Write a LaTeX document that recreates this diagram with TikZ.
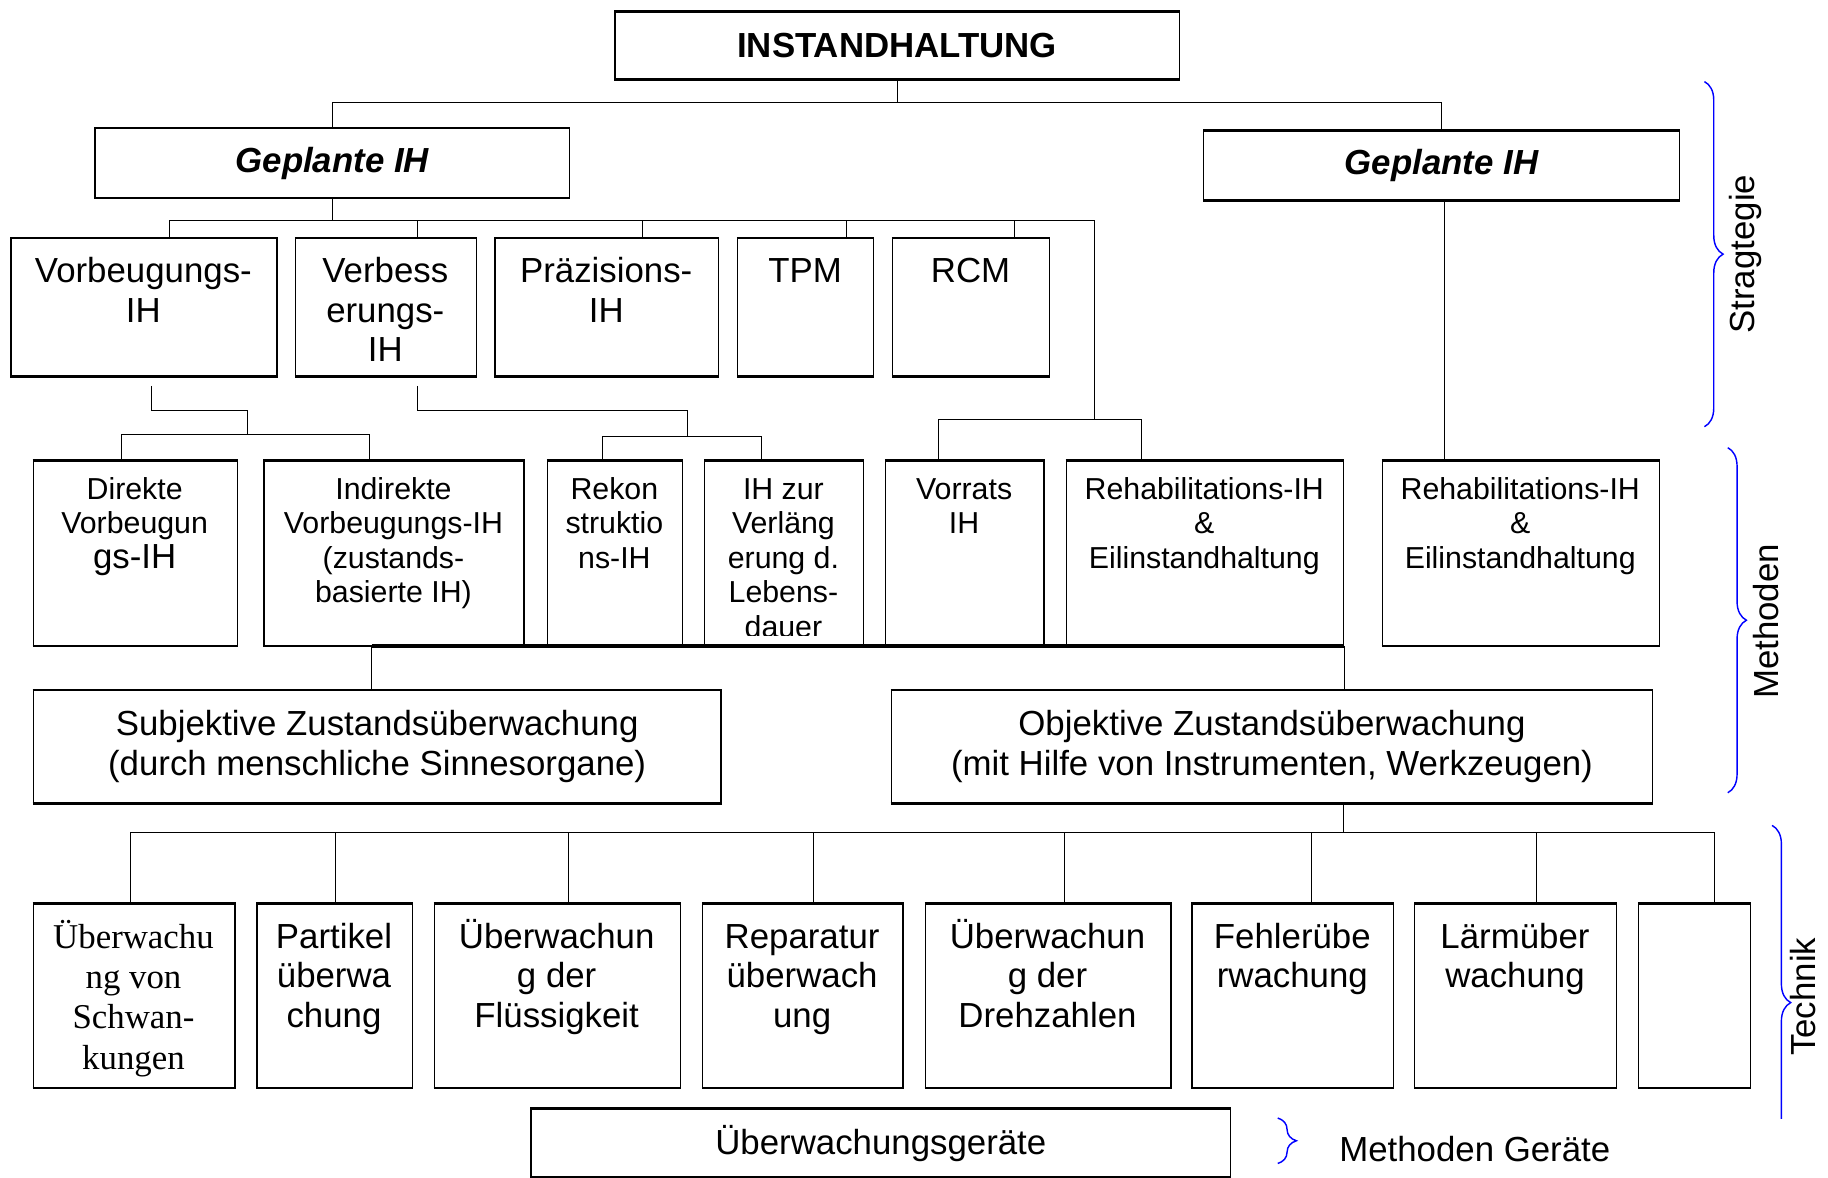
\documentclass[tikz,border=0pt]{standalone}
\usepackage{fontspec}
\setmainfont{Liberation Sans}
\newfontfamily\serifschrift{Liberation Serif}
\usetikzlibrary{decorations.pathreplacing}

\newcommand\oben{\rule{0pt}{1em}}
\tikzset{
  kasten/.style 2 args={draw, line width=0.6pt, anchor=north west, inner sep=0pt,
    minimum width=#1*0.02cm, minimum height=#2*0.02cm},
  txt/.style={anchor=north, align=center, inner sep=0pt},
  gross/.style={font=\fontsize{17}{19.4}\selectfont},
  klein/.style={font=\fontsize{14.8}{16.8}\selectfont},
  klammer/.style={draw=blue, line width=0.7pt, decorate,
    decoration={brace, amplitude=0.32cm}},
}

\begin{document}
\begin{tikzpicture}[x=0.02cm, y=-0.02cm, line width=0.5pt]
\useasboundingbox (0,0) rectangle (1568,1010);

% Strategie
\node[kasten={484}{57}, font=\bfseries\fontsize{17}{19.4}\selectfont] (ih) at (527,10) {INSTANDHALTUNG};
\node[kasten={407}{59}, font=\bfseries\itshape\fontsize{17}{19.4}\selectfont] (gl) at (81,110) {Geplante IH};
\node[kasten={408}{59}, font=\bfseries\itshape\fontsize{17}{19.4}\selectfont] (gr) at (1032,112) {Geplante IH};

\node[kasten={228}{118}] (vih) at (9,204) {};
\node[kasten={155}{118}] (veih) at (253,204) {};
\node[kasten={192}{118}] (pih) at (424,204) {};
\node[kasten={117}{118}] (tpm) at (632,204) {};
\node[kasten={135}{118}] (rcm) at (765,204) {};
\node[txt, gross] (vih-t) at (123,212) {\oben Vorbeugungs-\\IH};
\node[txt, gross] (veih-t) at (330.5,212) {\oben Verbess\\erungs-\\IH};
\node[txt, gross] (pih-t) at (520,212) {\oben Präzisions-\\IH};
\node[txt, gross] (tpm-t) at (690.5,212) {\oben TPM};
\node[txt, gross] (rcm-t) at (832.5,212) {\oben RCM};

% Methoden
\node[kasten={175}{158}] (dv) at (28,395) {};
\node[kasten={223}{158}] (iv) at (226,395) {};
\node[kasten={116}{158}] (rek) at (469,395) {};
\node[kasten={136}{158}] (iz) at (604,395) {};
\node[kasten={136}{158}] (vor) at (759,395) {};
\node[kasten={238}{158}] (rl) at (914,395) {};
\node[kasten={238}{158}] (rr) at (1185,395) {};
\node[txt, klein] (dv-t) at (115.5,402) {\oben Direkte\\Vorbeugun\\{\fontsize{17}{19.4}\selectfont gs-IH}};
\node[txt, klein] (iv-t) at (337.5,402) {\oben Indirekte\\Vorbeugungs-IH\\(zustands-\\basierte IH)};
\node[txt, klein] (rek-t) at (527,402) {\oben Rekon\\struktio\\ns-IH};
\begin{scope}
\clip (iz.north west) rectangle (740,545);
\node[txt, klein] (iz-t) at (672,402) {\oben IH zur\\Verläng\\erung d.\\Lebens-\\dauer};
\end{scope}
\node[txt, klein] (vor-t) at (827,402) {\oben Vorrats\\IH};
\node[txt, klein] (rl-t) at (1033,402) {\oben Rehabilitations-IH\\\&\\Eilinstandhaltung};
\node[txt, klein] (rr-t) at (1304,402) {\oben Rehabilitations-IH\\\&\\Eilinstandhaltung};

\node[kasten={590}{96}, gross, align=center] (subj) at (28,592)
  {Subjektive Zustandsüberwachung\\(durch menschliche Sinnesorgane)};
\node[kasten={653}{96}, gross, align=center] (obj) at (764,592)
  {Objektive Zustandsüberwachung\\(mit Hilfe von Instrumenten, Werkzeugen)};

% Technik
\node[kasten={173}{157}] (ue1) at (28,775) {};
\node[kasten={133}{157}] (pa) at (220,775) {};
\node[kasten={211}{157}] (ue2) at (372,775) {};
\node[kasten={172}{157}] (rep) at (602,775) {};
\node[kasten={211}{157}] (ue3) at (793,775) {};
\node[kasten={173}{157}] (fe) at (1022,775) {};
\node[kasten={173}{157}] (la) at (1213,775) {};
\node[kasten={96}{157}] (leer) at (1405,775) {};
\node[txt, font=\serifschrift\fontsize{17}{19.7}\selectfont] (ue1-t) at (114.5,783) {\oben Überwachu\\ng von\\Schwan-\\kungen};
\node[txt, gross] (pa-t) at (286.5,783) {\oben Partikel\\überwa\\chung};
\node[txt, gross] (ue2-t) at (477.5,783) {\oben Überwachun\\g der\\Flüssigkeit};
\node[txt, gross] (rep-t) at (688,783) {\oben Reparatur\\überwach\\ung};
\node[txt, gross] (ue3-t) at (898.5,783) {\oben Überwachun\\g der\\Drehzahlen};
\node[txt, gross] (fe-t) at (1108.5,783) {\oben Fehlerübe\\rwachung};
\node[txt, gross] (la-t) at (1299.5,783) {\oben Lärmüber\\wachung};

\node[kasten={600}{58}, gross] (ger) at (455,951) {Überwachungsgeräte};
\node[gross] (mg) at (1265,986) {Methoden Geräte};

% dicke Kanten oben und unten
\foreach \n in {ih,gl,gr,vih,veih,pih,tpm,rcm,dv,iv,rek,iz,vor,rl,rr,subj,obj,ue1,pa,ue2,rep,ue3,fe,la,leer,ger}
  \draw[line width=1.2pt] (\n.north west) -- (\n.north east) (\n.south west) -- (\n.south east);

% Verbindungen
\draw (ih.south) -- ++(0,20) coordinate (k0);
\draw (gl.north) |- (k0) -| (gr.north);
\draw (gl.south) -- ++(0,19) coordinate (k1);
\draw (145,0 |- k1) -- (939,0 |- k1) -- (939,360);
\foreach \n/\x in {vih/145, veih/358, pih/551, tpm/726, rcm/870}
  \draw (\x,0 |- k1) -- (\x,0 |- \n.north);
\draw (130,331) -- (130,352) -- (212,352) -- (212,373);
\draw (104,0 |- dv.north) |- (317,373) -- (317,0 |- iv.north);
\draw (358,331) -- (358,352) -- (590,352) -- (590,374);
\draw (517,0 |- rek.north) |- (653,374) -- (653,0 |- iz.north);
\draw (805,0 |- vor.north) |- (979,360) -- (979,0 |- rl.north);
\draw (1239,0 |- gr.south) -- (1239,0 |- rr.north);
\draw[line width=1.8pt] (319,0 |- iv.south) -- (rl.south east);
\draw (319,0 |- iv.south) -- (319,0 |- subj.north);
\draw (rl.south east) -- (rl.south east |- obj.north);
\draw (1152,0 |- obj.south) -- (1152,714) coordinate (k2);
\draw (112,0 |- k2) -- (1471,0 |- k2);
\foreach \n/\x in {ue1/112, pa/288, ue2/488, rep/698, ue3/913, fe/1125, la/1318, leer/1471}
  \draw (\x,0 |- k2) -- (\x,0 |- \n.north);

% Klammern
\draw[klammer] (1462,70) -- (1462,366);
\node[rotate=90, gross] (stra) at (1497,218) {Stragtegie};
\draw[klammer] (1482,384) -- (1482,680);
\node[rotate=90, gross] (meth) at (1515,533) {Methoden};
\begin{scope}
\clip (1500,700) rectangle (1568,959);
\draw[klammer] (1520,708) -- (1520,1012);
\end{scope}
\node[rotate=90, gross] (tech) at (1547,855) {Technik};
\draw[klammer] (1096,959) -- (1096,998);
\end{tikzpicture}
\end{document}
